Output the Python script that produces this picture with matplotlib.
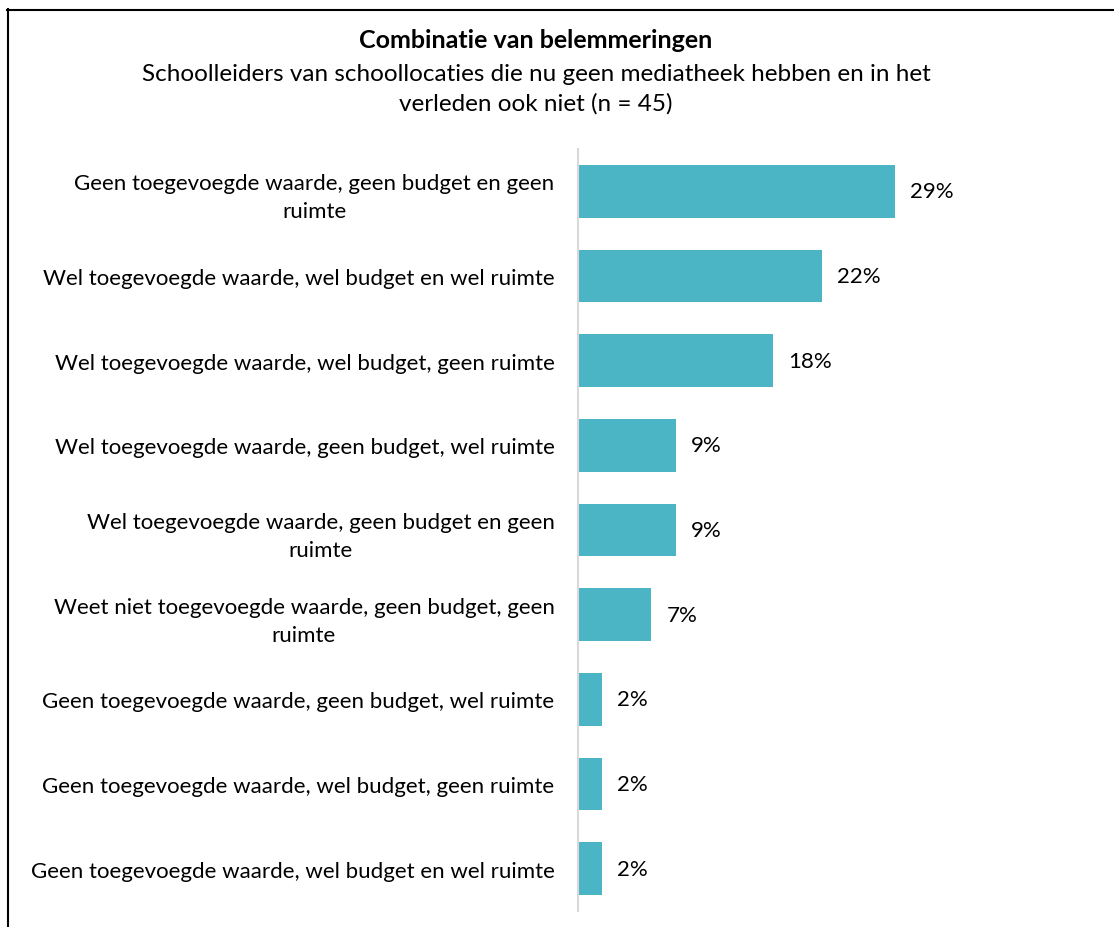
import matplotlib.pyplot as plt
from matplotlib.lines import Line2D

# Data (n = 45)
categories = [
    "Geen toegevoegde waarde, geen budget en geen\nruimte",
    "Wel toegevoegde waarde, wel budget en wel ruimte",
    "Wel toegevoegde waarde, wel budget, geen ruimte",
    "Wel toegevoegde waarde, geen budget, wel ruimte",
    "Wel toegevoegde waarde, geen budget en geen\nruimte",
    "Weet niet toegevoegde waarde, geen budget, geen\nruimte",
    "Geen toegevoegde waarde, geen budget, wel ruimte",
    "Geen toegevoegde waarde, wel budget, geen ruimte",
    "Geen toegevoegde waarde, wel budget en wel ruimte",
]
values = [28.9, 22.2, 17.8, 8.9, 8.9, 6.7, 2.2, 2.2, 2.2]
value_labels = ["29%", "22%", "18%", "9%", "9%", "7%", "2%", "2%", "2%"]

title = "Combinatie van belemmeringen"
subtitle = "Schoolleiders van schoollocaties die nu geen mediatheek hebben en in het\nverleden ook niet (n = 45)"

plt.rcParams['font.family'] = ['Lato', 'DejaVu Sans']

W, H = 1114, 928
fig = plt.figure(figsize=(W / 100, H / 100), dpi=100)

# axes placed in pixel terms
left, right, top, bottom = 578, 1000, 150, 912
ax = fig.add_axes([left / W, 1 - bottom / H, (right - left) / W, (bottom - top) / H])

ypos = list(range(len(categories)))
ax.barh(ypos, values, height=0.62, color='#4BB4C5')
ax.set_ylim(len(categories) - 0.5, -0.5)
ax.set_xlim(0, (right - left) / 10.97)

for y, v, lab in zip(ypos, values, value_labels):
    ax.annotate(lab, (v, y), xytext=(11, 0), textcoords='offset points',
                va='center', ha='left', fontsize=16, color='#000000')

ax.set_yticks(ypos)
ax.set_yticklabels(categories, fontsize=16, multialignment='center',
                   linespacing=1.5)
ax.tick_params(axis='y', length=0, pad=17)
ax.set_xticks([])
for s in ['top', 'right', 'bottom']:
    ax.spines[s].set_visible(False)
ax.spines['left'].set_color('#D9D9D9')
ax.spines['left'].set_linewidth(1.5)

fig.text(536 / W, 1 - 40 / H, title, ha='center', va='center',
         fontsize=18, fontweight='bold')
fig.text(536 / W, 1 - 89 / H, subtitle, ha='center', va='center',
         fontsize=17.5, linespacing=1.45)

# chart border: only the top and left edges are visible in the image
fig.add_artist(Line2D([7 / W, 1.0], [1 - 10.5 / H, 1 - 10.5 / H],
                      transform=fig.transFigure, color='black', linewidth=1.5))
fig.add_artist(Line2D([7.5 / W, 7.5 / W], [0.0, 1 - 10 / H],
                      transform=fig.transFigure, color='black', linewidth=1.5))

fig.savefig('out.png', dpi=100)
